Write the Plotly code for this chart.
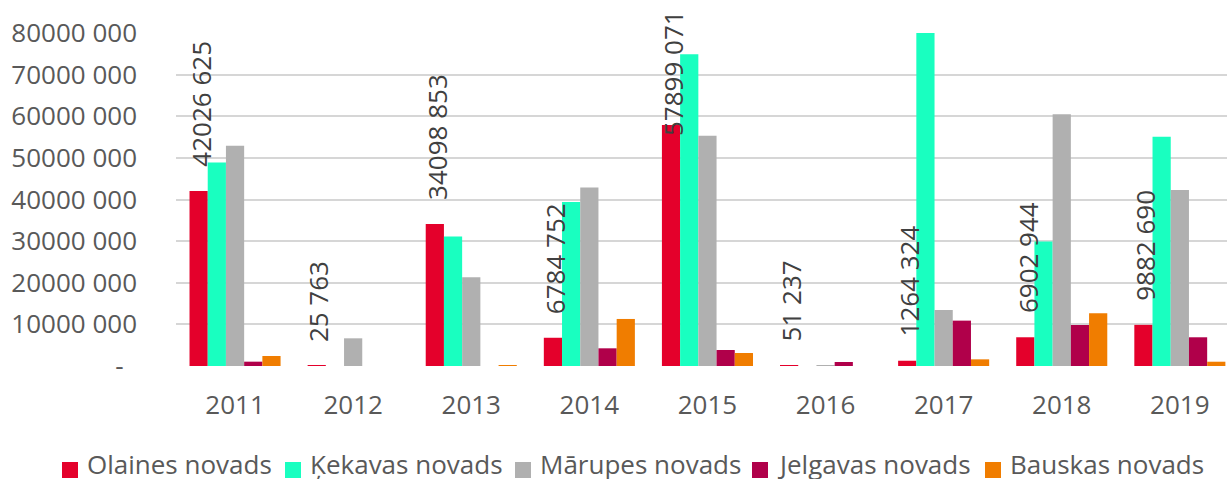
import plotly.graph_objects as go

# ---- data -------------------------------------------------------------
years = [2011, 2012, 2013, 2014, 2015, 2016, 2017, 2018, 2019]

series_names = ["Olaines novads", "Ķekavas novads", "Mārupes novads",
                "Jelgavas novads", "Bauskas novads"]

olaines = [42026625, 25763, 34098853, 6784752, 57899071, 51237, 1264324, 6902944, 9882690]
kekavas = [48900000, 0, 31100000, 39400000, 74900000, 0, 86000000, 29900000, 55100000]
marupes = [52900000, 6650000, 21300000, 42900000, 55300000, 150000, 13450000, 60500000, 42300000]
jelgavas = [1040000, 0, 0, 4250000, 3840000, 960000, 10900000, 9850000, 6900000]
bauskas = [2400000, 0, 50000, 11300000, 3120000, 0, 1600000, 12700000, 1030000]

y_tickvals = [0, 10000000, 20000000, 30000000, 40000000, 50000000, 60000000, 70000000, 80000000]
y_ticktext = ["-\u00a0\u00a0", "10000 000", "20000 000", "30000 000", "40000 000",
              "50000 000", "60000 000", "70000 000", "80000 000"]

# ---- styling ----------------------------------------------------------
colors = ["#E4002B", "#19FFC0", "#B0B0B0", "#B0004A", "#F07D00"]
FONT = "Open Sans"
FS = 26
TICK_COLOR = "#595959"
LABEL_COLOR = "#404040"
GRID = "#D6D6D6"

W, H = 1227, 479
L, R, T, B = 176, 0, 33, 113
plot_w = W - L - R
plot_h = H - T - B
cat_px = 118.1            # width of one year slot in pixels
bargap = 0.229
n_series = len(series_names)
bar_w = (1 - bargap) / n_series
y_max = 80000000


def fmt(v):
    s = str(int(v))
    return s[:-3] + " " + s[-3:] if len(s) > 3 else s


fig = go.Figure()
for name, vals, col in zip(series_names, [olaines, kekavas, marupes, jelgavas, bauskas], colors):
    fig.add_trace(go.Bar(x=years, y=vals, name=name, marker_color=col,
                         marker_line_width=0, showlegend=False))

# vertical value labels above the Olaines bars
for yr, v in zip(years, olaines):
    x = yr - 2 * bar_w
    top_px = (v / y_max) * plot_h
    label_font = dict(family=FONT, size=FS, color=LABEL_COLOR)
    # labels that would run off the top are pinned to the top of the plot
    if top_px + 24 + 130 > plot_h + T - 10:
        fig.add_annotation(x=x, y=y_max, xref="x", yref="y", text=fmt(v),
                           textangle=-90, showarrow=False, xanchor="center",
                           yanchor="top", yshift=25, xshift=2, font=label_font)
    else:
        fig.add_annotation(x=x, y=v, xref="x", yref="y", text=fmt(v),
                           textangle=-90, showarrow=False, xanchor="center",
                           yanchor="bottom", yshift=22, xshift=2, font=label_font)

# legend drawn below the chart
legend_sq_px = [62, 285, 515, 752, 985]
sq = 16
for name, col, px in zip(series_names, colors, legend_sq_px):
    x0 = (px - L) / plot_w
    x1 = (px + sq - L) / plot_w
    y0 = (H - B - 478) / plot_h
    y1 = (H - B - 462) / plot_h
    fig.add_shape(type="rect", xref="paper", yref="paper", x0=x0, x1=x1, y0=y0, y1=y1,
                  fillcolor=col, line_width=0)
    fig.add_annotation(xref="paper", yref="paper", x=(px + sq + 7 - L) / plot_w,
                       y=(H - B - 464) / plot_h, text=name, showarrow=False,
                       xanchor="left", yanchor="middle",
                       font=dict(family=FONT, size=FS, color=TICK_COLOR))

fig.update_layout(
    width=W, height=H,
    margin=dict(l=L, r=R, t=T, b=B, pad=0),
    paper_bgcolor="white", plot_bgcolor="white",
    barmode="group", bargap=bargap, bargroupgap=0,
    showlegend=False,
    font=dict(family=FONT, size=FS, color=TICK_COLOR),
)
fig.update_xaxes(
    range=[years[0] - 0.5, years[0] - 0.5 + plot_w / cat_px],
    tickmode="array", tickvals=years, ticktext=[str(y) for y in years],
    showgrid=False, zeroline=False, showline=False, ticks="",
    ticklabelstandoff=21,
    tickfont=dict(family=FONT, size=FS, color=TICK_COLOR),
)
fig.update_yaxes(
    range=[0, y_max], tickmode="array", tickvals=y_tickvals, ticktext=y_ticktext,
    showgrid=True, gridcolor=GRID, gridwidth=1.5, zeroline=False, showline=False,
    ticks="", ticklabelstandoff=38,
    tickfont=dict(family=FONT, size=FS, color=TICK_COLOR),
)

fig.write_html("out.html")
